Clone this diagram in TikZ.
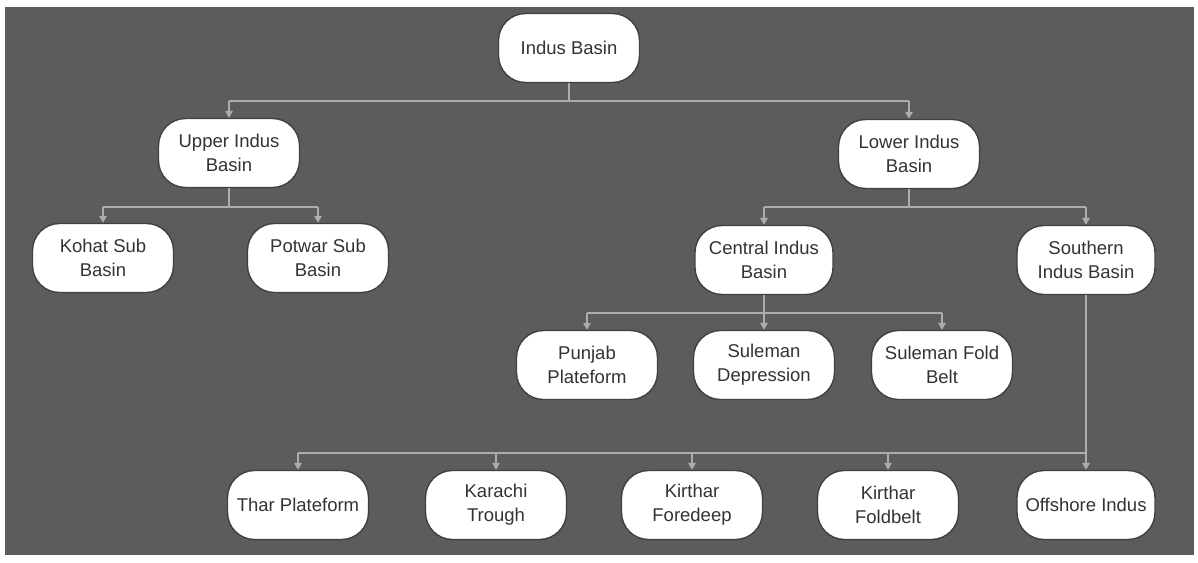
\documentclass[tikz,border=0pt]{standalone}
\usepackage{fontspec}
\setmainfont{Liberation Sans}
\usetikzlibrary{arrows.meta}

\begin{document}
\begin{tikzpicture}[
    x=1pt, y=-1pt,
    font=\fontsize{18.5}{24}\selectfont,
    basin/.style={draw=black!75, line width=1.4pt, fill=white, rounded corners=27pt,
      align=center, minimum width=141pt, minimum height=69pt, inner sep=2pt, text=black!80},
    ln/.style={draw=black!32, line width=1.6pt},
    arr/.style={ln, -{Triangle[length=7pt, width=7.5pt]}}
  ]
    \useasboundingbox (0,0) rectangle (1198,562);
    \fill[black!64] (5,7) rectangle (1194,555);

    \node[basin] (indus) at (569,48) {Indus Basin};

    \node[basin] (upper) at (229,153) {Upper Indus\\Basin};
    \node[basin] (lower) at (909,154) {Lower Indus\\Basin};

    \node[basin] (kohat) at (103,258) {Kohat Sub\\Basin};
    \node[basin] (potwar) at (318,258) {Potwar Sub\\Basin};
    \node[basin, minimum width=138pt] (central) at (764,260) {Central Indus\\Basin};
    \node[basin, minimum width=138pt] (southern) at (1086,260) {Southern\\Indus Basin};

    \node[basin] (punjab) at (587,365) {Punjab\\Plateform};
    \node[basin] (sdep) at (764,365) {Suleman\\Depression};
    \node[basin] (sfold) at (942,365) {Suleman Fold\\Belt};

    \node[basin] (thar) at (298,505) {Thar Plateform};
    \node[basin] (karachi) at (496,505) {Karachi\\Trough};
    \node[basin] (kfore) at (692,505) {Kirthar\\Foredeep};
    \node[basin] (kfold) at (888,505) {Kirthar\\Foldbelt};
    \node[basin, minimum width=138pt] (offshore) at (1086,505) {Offshore Indus};

    % forks
    \path (indus.south) ++(0,18) coordinate (f1);
    \path (upper.south) ++(0,19) coordinate (f2);
    \path (lower.south) ++(0,18) coordinate (f3);
    \path (central.south) ++(0,18) coordinate (f4);
    \path (southern.south) ++(0,158) coordinate (f5);

    \draw[ln] (indus.south) -- (f1);
    \draw[ln] (f1 -| upper) -- (f1 -| lower);
    \draw[arr] (f1 -| upper) -- (upper.north);
    \draw[arr] (f1 -| lower) -- (lower.north);

    \draw[ln] (upper.south) -- (f2);
    \draw[ln] (f2 -| kohat) -- (f2 -| potwar);
    \draw[arr] (f2 -| kohat) -- (kohat.north);
    \draw[arr] (f2 -| potwar) -- (potwar.north);

    \draw[ln] (lower.south) -- (f3);
    \draw[ln] (f3 -| central) -- (f3 -| southern);
    \draw[arr] (f3 -| central) -- (central.north);
    \draw[arr] (f3 -| southern) -- (southern.north);

    \draw[ln] (central.south) -- (f4);
    \draw[ln] (f4 -| punjab) -- (f4 -| sfold);
    \draw[arr] (f4 -| punjab) -- (punjab.north);
    \draw[arr] (f4 -| sdep) -- (sdep.north);
    \draw[arr] (f4 -| sfold) -- (sfold.north);

    \draw[arr] (southern.south) -- (offshore.north);
    \draw[ln] (f5 -| thar) -- (f5);
    \draw[arr] (f5 -| thar) -- (thar.north);
    \draw[arr] (f5 -| karachi) -- (karachi.north);
    \draw[arr] (f5 -| kfore) -- (kfore.north);
    \draw[arr] (f5 -| kfold) -- (kfold.north);
  \end{tikzpicture}
\end{document}
